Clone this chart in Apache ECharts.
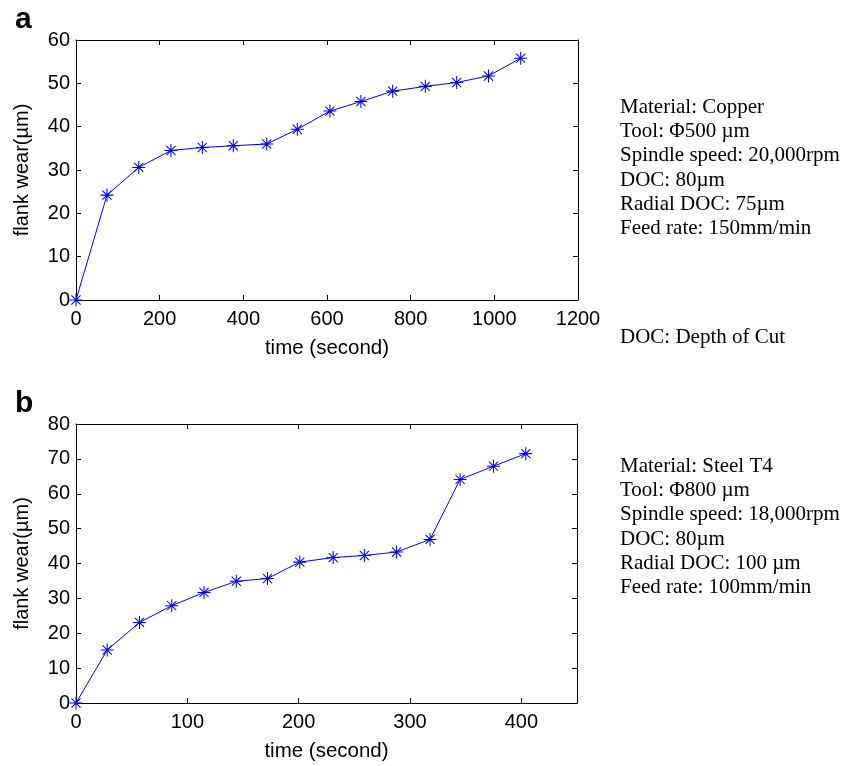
<!DOCTYPE html>
<html><head><meta charset="utf-8">
<script src="https://cdn.jsdelivr.net/npm/echarts@6/dist/echarts.min.js"></script>
<style>html,body{margin:0;padding:0;background:#fff}#c{width:857px;height:766px}</style>
</head><body><div id="c"></div>
<script>
// ---- data ----
const timeA = [0, 74, 150, 227, 302, 376, 456, 529, 607, 681, 757, 835, 910, 986, 1063];
const wearA = [0, 24.2, 30.6, 34.5, 35.2, 35.6, 36.0, 39.4, 43.6, 45.8, 48.2, 49.3, 50.2, 51.7, 55.8];
const timeB = [0, 28, 57, 86, 115, 144, 172, 201, 231, 259, 288, 318, 345, 375, 404];
const wearB = [0, 15.2, 23.1, 27.9, 31.7, 34.9, 35.7, 40.4, 41.7, 42.3, 43.3, 46.9, 64.1, 67.9, 71.5];
const notesA = ['Material: Copper', 'Tool: \u03A6500 \u00B5m', 'Spindle speed: 20,000rpm', 'DOC: 80\u00B5m', 'Radial DOC: 75\u00B5m', 'Feed rate: 150mm/min'];
const notesB = ['Material: Steel T4', 'Tool: \u03A6800 \u00B5m', 'Spindle speed: 18,000rpm', 'DOC: 80\u00B5m', 'Radial DOC: 100 \u00B5m', 'Feed rate: 100mm/min'];
const footnoteA = 'DOC: Depth of Cut';
const xName = 'time (second)';
const yName = 'flank wear(\u00B5m)';
const panelLabels = ['a', 'b'];
const axisA = { xMin: 0, xMax: 1200, xStep: 200, yMin: 0, yMax: 60, yStep: 10 };
const axisB = { xMin: 0, xMax: 450, xStep: 100, yMin: 0, yMax: 80, yStep: 10 };

// ---- styling ----
const SANS = '"Liberation Sans", Arial, Helvetica, sans-serif';
const SERIF = '"Liberation Serif", "Times New Roman", serif';
const BLUE = '#0000ff';
const star = 'path://M46 0L54 0L54 100L46 100Z M0 46L100 46L100 54L0 54Z ' +
  'M17.8 12.2L87.8 82.2L82.2 87.8L12.2 17.8Z M87.8 17.8L17.8 87.8L12.2 82.2L82.2 12.2Z';
const plain = v => String(v);

function xAx(gi, ax, main) {
  return {
    type: 'value', gridIndex: gi, position: main ? 'bottom' : 'top',
    min: ax.xMin, max: ax.xMax, interval: ax.xStep,
    name: main ? xName : '', nameLocation: 'middle', nameGap: 38,
    nameTextStyle: { fontFamily: SANS, fontSize: 20.5, color: '#000' },
    axisLine: { show: true, onZero: false, lineStyle: { color: '#000', width: 1 } },
    axisTick: { show: true, inside: true, length: 5, lineStyle: { color: '#000' } },
    axisLabel: { show: main, formatter: plain, fontFamily: SANS, fontSize: 20, color: '#000', margin: 9, showMaxLabel: ax.xMax % ax.xStep === 0 },
    splitLine: { show: false }
  };
}
function yAx(gi, ax, main) {
  return {
    type: 'value', gridIndex: gi, position: main ? 'left' : 'right',
    min: ax.yMin, max: ax.yMax, interval: ax.yStep,
    name: main ? yName : '', nameLocation: 'middle', nameGap: 44, nameRotate: 90,
    nameTextStyle: { fontFamily: SANS, fontSize: 20, color: '#000' },
    axisLine: { show: true, onZero: false, lineStyle: { color: '#000', width: 1 } },
    axisTick: { show: true, inside: true, length: 5, lineStyle: { color: '#000' } },
    axisLabel: { show: main, formatter: plain, fontFamily: SANS, fontSize: 20, color: '#000', margin: 6 },
    splitLine: { show: false }
  };
}
function ser(xi, times, vals) {
  return {
    type: 'line', xAxisIndex: xi, yAxisIndex: xi, clip: false,
    data: times.map((t, i) => [t, vals[i]]),
    symbol: star, symbolSize: 13,
    itemStyle: { color: BLUE },
    lineStyle: { color: BLUE, width: 1 },
    emphasis: { disabled: true }, animation: false
  };
}
function noteTexts(lines, x, y0, dy) {
  return lines.map((t, i) => ({
    type: 'text', left: x, top: y0 + i * dy,
    style: { text: t, fontFamily: SERIF, fontSize: 21, fill: '#000' }
  }));
}

const chart = echarts.init(document.getElementById('c'), null, { renderer: 'canvas' });
chart.setOption({
  backgroundColor: '#fff',
  animation: false,
  grid: [
    { left: 76, top: 40, width: 502, height: 260 },
    { left: 76, top: 424, width: 501, height: 279 }
  ],
  xAxis: [xAx(0, axisA, true), xAx(0, axisA, false), xAx(1, axisB, true), xAx(1, axisB, false)],
  yAxis: [yAx(0, axisA, true), yAx(0, axisA, false), yAx(1, axisB, true), yAx(1, axisB, false)],
  series: [ser(0, timeA, wearA), ser(2, timeB, wearB)],
  graphic: [
    { type: 'text', left: 15, top: 5, style: { text: panelLabels[0], fontFamily: SANS, fontWeight: 'bold', fontSize: 30, fill: '#000' } },
    { type: 'text', left: 15, top: 389, style: { text: panelLabels[1], fontFamily: SANS, fontWeight: 'bold', fontSize: 30, fill: '#000' } },
    ...noteTexts(notesA, 620, 97, 24.2),
    { type: 'text', left: 620, top: 327, style: { text: footnoteA, fontFamily: SERIF, fontSize: 21, fill: '#000' } },
    ...noteTexts(notesB, 620, 456, 24.2)
  ]
});
</script>
</body></html>
